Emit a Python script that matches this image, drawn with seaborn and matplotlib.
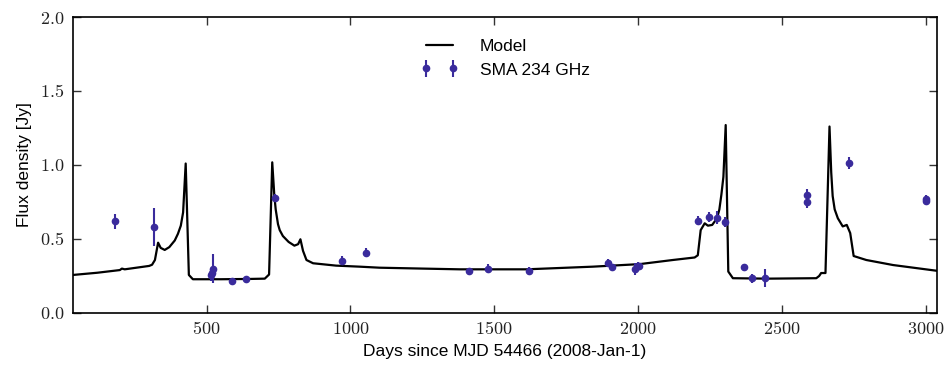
import numpy as np
import pandas as pd
import matplotlib
matplotlib.use("Agg")
import matplotlib.pyplot as plt
import seaborn as sns
from matplotlib.ticker import FuncFormatter

# ---- model curve ----
model_days = [35, 120, 198, 205, 215, 300, 310, 320, 331, 340, 354, 370, 389, 400, 410, 418, 427,
              438, 452, 550, 650, 702, 717, 728, 735, 740, 748, 754, 765, 785, 805, 818, 826, 835, 847, 870,
              950, 1032, 1101, 1250, 1380, 1612, 1843, 1994, 2005, 2121, 2197, 2208,
              2218, 2232, 2243, 2258, 2275, 2283, 2290, 2297, 2305, 2314, 2330, 2450, 2620,
              2630, 2637, 2652, 2666, 2672, 2677, 2684, 2695, 2712, 2726, 2738, 2750, 2794, 2887, 3040]
model_flux = [0.257, 0.272, 0.29, 0.30, 0.295, 0.318, 0.326, 0.358, 0.475, 0.44, 0.426, 0.445, 0.49, 0.535, 0.59, 0.68, 1.01,
              0.257, 0.228, 0.228, 0.23, 0.232, 0.26, 1.018, 0.80, 0.70, 0.60, 0.56, 0.52, 0.48, 0.455, 0.465, 0.498, 0.42, 0.358, 0.336,
              0.32, 0.313, 0.306, 0.30, 0.295, 0.295, 0.313, 0.329, 0.33, 0.358, 0.375, 0.39,
              0.56, 0.606, 0.59, 0.595, 0.64, 0.70, 0.80, 0.92, 1.27, 0.28, 0.235, 0.232, 0.235,
              0.25, 0.27, 0.27, 1.26, 0.95, 0.79, 0.70, 0.64, 0.585, 0.595, 0.54, 0.385, 0.358, 0.324, 0.285]

# ---- SMA 234 GHz data ----
sma_days = [181, 317, 515, 519, 521, 589, 635, 736, 969, 1053, 1411, 1477, 1622,
            1895, 1908, 1990, 1999, 2005, 2209, 2248, 2276, 2302, 2368, 2395, 2443,
            2587, 2587, 2733, 3000, 3001]
sma_flux = [0.62, 0.58, 0.255, 0.27, 0.30, 0.218, 0.228, 0.777, 0.353, 0.407, 0.282, 0.30, 0.286,
            0.34, 0.309, 0.295, 0.318, 0.32, 0.624, 0.649, 0.644, 0.613, 0.309, 0.234, 0.234,
            0.80, 0.748, 1.016, 0.77, 0.76]
sma_err = [0.05, 0.13, 0.04, 0.04, 0.10, 0.02, 0.02, 0.03, 0.03, 0.03, 0.02, 0.03, 0.025,
           0.025, 0.02, 0.04, 0.025, 0.02, 0.03, 0.035, 0.045, 0.035, 0.025, 0.03, 0.06,
           0.04, 0.04, 0.04, 0.03, 0.03]

xticks = [500, 1000, 1500, 2000, 2500, 3000]
yticks = [0.0, 0.5, 1.0, 1.5, 2.0]

sns.set_style("ticks")
plt.rcParams['font.family'] = ['Liberation Sans', 'DejaVu Sans']
plt.rcParams['mathtext.fontset'] = 'cm'
plt.rcParams['text.color'] = 'black'
plt.rcParams['axes.labelcolor'] = 'black'

fig = plt.figure(figsize=(9.49, 3.68), dpi=100)
ax = fig.add_axes([0.0769, 0.1495, 0.9105, 0.8043])

model_df = pd.DataFrame({"day": model_days, "flux": model_flux})
sns.lineplot(data=model_df, x="day", y="flux", ax=ax, color="black", lw=1.6,
             label="Model", sort=False, estimator=None)

col = "#3a2b9c"
ax.errorbar(sma_days, sma_flux, yerr=sma_err, fmt='o', color=col, ms=4.5,
            mec=col, elinewidth=1.5, capsize=0, label="SMA 234 GHz")

ax.set_xlim(35, 3040)
ax.set_ylim(0, 2.0)
ax.set_xticks(xticks)
ax.set_yticks(yticks)
ax.xaxis.set_major_formatter(FuncFormatter(lambda v, p: r'$%d$' % v))
ax.yaxis.set_major_formatter(FuncFormatter(lambda v, p: r'$%.1f$' % v))
ax.tick_params(direction='in', top=True, right=True, length=6, width=1, labelsize=13,
               color='#333333', labelcolor='#222222', pad=6)
for s in ax.spines.values():
    s.set_linewidth(1.2)
    s.set_color('black')

ax.set_xlabel("Days since MJD 54466 (2008-Jan-1)", fontsize=12.5, labelpad=4)
ax.set_ylabel("Flux density [Jy]", fontsize=12.5, labelpad=6)

leg = ax.legend(loc='upper center', bbox_to_anchor=(0.5, 0.98), frameon=False,
                numpoints=2, fontsize=12.5, handlelength=2.2, handletextpad=1.2)

fig.savefig("out.png", dpi=100)
